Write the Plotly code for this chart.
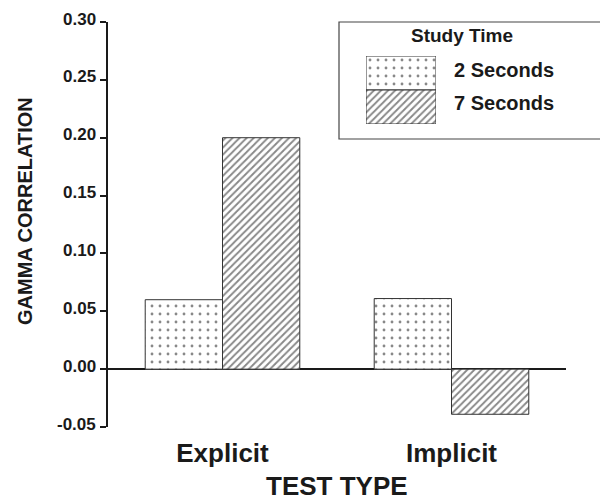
import plotly.graph_objects as go

categories = ["Explicit", "Implicit"]
series_names = ["2 Seconds", "7 Seconds"]
values_2s = [0.060, 0.061]
values_7s = [0.200, -0.039]
y_ticks = [-0.05, 0.00, 0.05, 0.10, 0.15, 0.20, 0.25, 0.30]
y_tick_labels = ["-0.05", "0.00", "0.05", "0.10", "0.15", "0.20", "0.25", "0.30"]
legend_title = "Study Time"
x_title = "TEST TYPE"
y_title = "GAMMA CORRELATION"

FONT = "Liberation Sans, Arial, Helvetica, sans-serif"
INK = "#1a1a1a"

dots = dict(shape=".", fgcolor="#111", bgcolor="white", size=8, solidity=0.1)
hatch = dict(shape="/", fgcolor="#111", bgcolor="white", size=5, solidity=0.38)

fig = go.Figure()
fig.add_trace(go.Bar(x=categories, y=values_2s, name=series_names[0],
                     marker=dict(color="white", pattern=dots,
                                 line=dict(color="#333", width=1))))
fig.add_trace(go.Bar(x=categories, y=values_7s, name=series_names[1],
                     marker=dict(color="white", pattern=hatch,
                                 line=dict(color="#333", width=1))))

# legend swatches (stacked box) drawn on a tiny auxiliary axis
fig.add_trace(go.Bar(x=[0], y=[1], base=[1], width=[1], offsetgroup="lg",
                     xaxis="x2", yaxis="y2", showlegend=False, hoverinfo="skip",
                     marker=dict(color="white", pattern=dots,
                                 line=dict(color="#333", width=1))))
fig.add_trace(go.Bar(x=[0], y=[1], base=[0], width=[1], offsetgroup="lg",
                     xaxis="x2", yaxis="y2", showlegend=False, hoverinfo="skip",
                     marker=dict(color="white", pattern=hatch,
                                 line=dict(color="#333", width=1))))

# page body has an 8px default margin; figure occupies screen 8..608 x 8..500
OFF = 8
W, H = 608 - OFF, 500 - OFF
PL, PR, PT, PB = 108, 566, 22, 427   # plot area in screen px
L, R, T, B = PL - OFF, 608 - PR, PT - OFF, 500 - PB

def px(x):
    return (x - PL) / (PR - PL)

def py(y):
    return (PB - y) / (PB - PT)

# y tick labels sit just above their tick marks, as in the original
tick_label_annots = [
    dict(text=lab, xref="paper", yref="y", x=0, y=val, xanchor="right",
         yanchor="middle", xshift=-10, yshift=3, showarrow=False,
         font=dict(size=17, family=FONT, color=INK, weight="bold"))
    for val, lab in zip(y_ticks, y_tick_labels)
]

fig.update_layout(
    width=W, height=H,
    margin=dict(l=L, r=R, t=T, b=B, pad=0),
    plot_bgcolor="white", paper_bgcolor="white",
    barmode="group", bargap=0.325, bargroupgap=0,
    showlegend=False,
    font=dict(family=FONT, color=INK),
    xaxis=dict(range=[-0.5, 1.5], showline=False, ticks="", showgrid=False,
               zeroline=False, ticklabelstandoff=8,
               tickfont=dict(size=26, family=FONT, color=INK, weight="bold")),
    yaxis=dict(range=[-0.05, 0.30], tickvals=y_ticks, showticklabels=False,
               showline=True, linecolor=INK, linewidth=2, mirror=False,
               ticks="outside", ticklen=6, tickwidth=2, tickcolor=INK,
               showgrid=False, zeroline=True, zerolinecolor=INK, zerolinewidth=2),
    xaxis2=dict(domain=[px(366), px(436)], range=[-0.5, 0.5], anchor="y2",
                visible=False, fixedrange=True),
    yaxis2=dict(domain=[py(124), py(56)], range=[0, 2], anchor="x2",
                visible=False, fixedrange=True),
    shapes=[dict(type="rect", xref="paper", yref="paper",
                 x0=px(339), x1=px(605), y0=py(139), y1=py(22),
                 line=dict(color="#444", width=1.2), fillcolor="rgba(0,0,0,0)",
                 layer="below")],
    annotations=tick_label_annots + [
        dict(text=x_title, xref="paper", yref="paper", x=px(337), y=py(486),
             xanchor="center", yanchor="middle", showarrow=False,
             font=dict(size=26, family=FONT, color=INK, weight="bold")),
        dict(text=y_title, xref="paper", yref="paper", x=px(25), y=py(211),
             xanchor="center", yanchor="middle", textangle=-90, showarrow=False,
             font=dict(size=20, family=FONT, color=INK, weight="bold")),
        dict(text=legend_title, xref="paper", yref="paper", x=px(462), y=py(35),
             xanchor="center", yanchor="middle", showarrow=False,
             font=dict(size=19, family=FONT, color=INK, weight="bold")),
        dict(text=series_names[0], xref="paper", yref="paper", x=px(452), y=py(70),
             xanchor="left", yanchor="middle", showarrow=False,
             font=dict(size=20, family=FONT, color=INK, weight="bold")),
        dict(text=series_names[1], xref="paper", yref="paper", x=px(452), y=py(103),
             xanchor="left", yanchor="middle", showarrow=False,
             font=dict(size=20, family=FONT, color=INK, weight="bold")),
    ],
)

fig.write_html("out.html")
